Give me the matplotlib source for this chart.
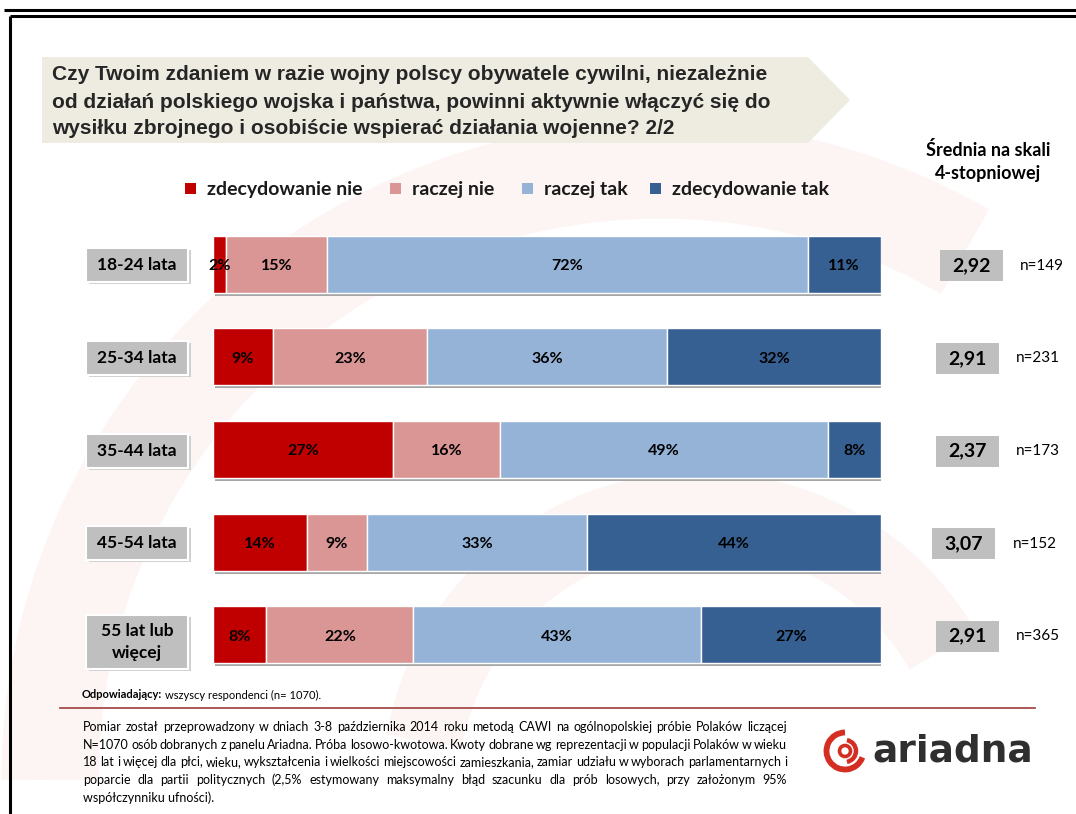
import matplotlib
matplotlib.use("Agg")
import matplotlib.pyplot as plt
from matplotlib.patches import Polygon, Rectangle, Arc, Circle
import numpy as np

W, H = 1076, 814

# survey results (percent of answers in each age group)
groups = ["18-24 lata", "25-34 lata", "35-44 lata", "45-54 lata", "55 lat lub\nwięcej"]
answers = ["zdecydowanie nie", "raczej nie", "raczej tak", "zdecydowanie tak"]
zdec_nie = [2, 9, 27, 14, 8]
raczej_nie = [15, 23, 16, 9, 22]
raczej_tak = [72, 36, 49, 33, 43]
zdec_tak = [11, 32, 8, 44, 27]
means = ["2,92", "2,91", "2,37", "3,07", "2,91"]
counts = [149, 231, 173, 152, 365]

colors = ["#C00000", "#D99694", "#95B3D7", "#376092"]

title_lines = [
    "Czy Twoim zdaniem w razie wojny polscy obywatele cywilni, niezależnie",
    "od działań polskiego wojska i państwa, powinni aktywnie włączyć się do",
    "wysiłku zbrojnego i osobiście wspierać działania wojenne? 2/2",
]
note_lines = [
    "Pomiar został przeprowadzony w dniach 3-8 października 2014 roku metodą CAWI na ogólnopolskiej próbie Polaków liczącej",
    "N=1070 osób dobranych z panelu Ariadna. Próba losowo-kwotowa. Kwoty dobrane wg reprezentacji w populacji Polaków w wieku",
    "18 lat i więcej dla płci, wieku, wykształcenia i wielkości miejscowości zamieszkania, zamiar udziału w wyborach parlamentarnych i",
    "poparcie dla partii politycznych (2,5% estymowany maksymalny błąd szacunku dla prób losowych, przy założonym 95%",
    "współczynniku ufności).",
]

BODY = ["Lato", "DejaVu Sans"]
TITLE = ["Liberation Sans", "DejaVu Sans"]

fig = plt.figure(figsize=(W / 100, H / 100), dpi=100)
fig.patch.set_facecolor("white")

# page layer in pixel coordinates
bg = fig.add_axes([0, 0, 1, 1])
bg.set_xlim(0, W)
bg.set_ylim(H, 0)
bg.axis("off")

# faint watermark swirl
wm = "#FDF5F4"
bg.add_patch(Arc((660, 780), 1220, 1220, theta1=180, theta2=300, color=wm, lw=70, zorder=0))
bg.add_patch(Arc((660, 780), 1220, 1220, theta1=330, theta2=360, color=wm, lw=70, zorder=0))
bg.add_patch(Arc((700, 790), 560, 560, theta1=190, theta2=330, color=wm, lw=55, zorder=0))

# frame
bg.plot([4, W], [10, 10], color="black", lw=2.2, solid_capstyle="butt", zorder=1)
bg.plot([10, W], [16, 16], color="black", lw=2.2, solid_capstyle="butt", zorder=1)
bg.plot([10, 10], [16, H], color="black", lw=2.2, solid_capstyle="butt", zorder=1)

# title banner
bg.add_patch(Polygon([(42, 57), (808, 57), (850, 100), (808, 143), (42, 143)],
                     closed=True, facecolor="#EEECE1", edgecolor="none", zorder=2))
for i, line in enumerate(title_lines):
    bg.text(52, 75 + 27 * i, line, fontsize=15, fontweight="bold", family=TITLE,
            color="#262626", va="center", ha="left", zorder=3)

# legend
leg_x = [185, 390, 522, 650]
for x, lab, c in zip(leg_x, answers, colors):
    bg.add_patch(Rectangle((x, 183), 11, 11, facecolor=c, edgecolor="none", zorder=3))
    bg.text(x + 22, 189, lab, fontsize=14, fontweight="bold", family=BODY,
            color="#1A1A1A", va="center", ha="left", zorder=3)

# header of the right column
bg.text(988, 150, "Średnia na skali", fontsize=13, fontweight="bold", family=BODY,
        color="black", ha="center", va="center")
bg.text(988, 173, "4-stopniowej", fontsize=13, fontweight="bold", family=BODY,
        color="black", ha="center", va="center")

# stacked bars
top_px, bot_px = 218, 681
ax = fig.add_axes([213 / W, (H - bot_px) / H, 668 / W, (bot_px - top_px) / H])
ax.set_xlim(0, 100)
ax.set_ylim(len(groups) - 0.5, -0.5)
ax.axis("off")
ax.patch.set_alpha(0)

row_px = (bot_px - top_px) / len(groups)
bar_h = 57 / row_px
y = np.arange(len(groups))
series = [zdec_nie, raczej_nie, raczej_tak, zdec_tak]
totals = np.sum(series, axis=0)

ax.barh(y + 3 / row_px, totals, left=0.25, height=bar_h, color="#A6A6A6", zorder=1)
left = np.zeros(len(groups))
for vals, c in zip(series, colors):
    vals = np.array(vals, dtype=float)
    ax.barh(y, vals, left=left, height=bar_h, color=c, edgecolor="white",
            linewidth=1.0, zorder=2)
    for yi, (l, v) in enumerate(zip(left, vals)):
        ax.text(l + v / 2, yi + 0.02, f"{v:.0f}%", fontsize=11.5, fontweight="bold",
                family=BODY, color="black", ha="center", va="center", zorder=3)
    left += vals

# group label boxes and mean boxes
centers = [top_px + row_px * (i + 0.5) for i in range(len(groups))]
mean_box_x = [940, 936, 936, 932, 936]
n_x = [1020, 1016, 1016, 1013, 1016]
for i, (g, m, n) in enumerate(zip(groups, means, counts)):
    cy = centers[i]
    two = "\n" in g
    bh = 54 if two else 34
    cy_box = cy + (7 if two else 1)
    bg.add_patch(Rectangle((89, cy_box - bh / 2 + 2), 102, bh, facecolor="#D0D0D0",
                           edgecolor="none", zorder=3))
    bg.add_patch(Rectangle((86, cy_box - bh / 2), 102, bh, facecolor="#BFBFBF",
                           edgecolor="white", lw=1.5, zorder=4))
    bg.text(137, cy_box, g, fontsize=12.5, fontweight="bold", family=BODY, color="black",
            ha="center", va="center", linespacing=1.45, zorder=5)

    bx = mean_box_x[i]
    bg.add_patch(Rectangle((bx, cy - 14), 63, 31, facecolor="#BFBFBF",
                           edgecolor="none", zorder=3))
    bg.text(bx + 31.5, cy + 1.5, m, fontsize=14, fontweight="bold", family=BODY,
            color="black", ha="center", va="center", zorder=4)
    bg.text(n_x[i], cy + 1.5, f"n={n}", fontsize=11, family=BODY, color="black",
            ha="left", va="center", zorder=4)

# respondents line and separator
t1 = bg.text(82, 695, "Odpowiadający:", fontsize=8, fontweight="bold", family=BODY,
             color="black", ha="left", va="center")
fig.canvas.draw()
renderer = fig.canvas.get_renderer()
bb = t1.get_window_extent(renderer)
bg.text(82 + bb.width + 3, 695, "wszyscy respondenci (n= 1070).", fontsize=8,
        family=BODY, color="black", ha="left", va="center")
bg.plot([60, 1035], [708, 708], color="#A54B4B", lw=1.3)

# justified methodology note
x0, x1 = 83, 787
note_fs = 9
for i, line in enumerate(note_lines):
    yy = 727 + 17.6 * i
    if i == len(note_lines) - 1:
        bg.text(x0, yy, line, fontsize=note_fs, family=BODY, color="black",
                ha="left", va="center")
        continue
    words = line.split(" ")
    widths = []
    for w in words:
        t = bg.text(0, 0, w, fontsize=note_fs, family=BODY)
        widths.append(t.get_window_extent(renderer).width)
        t.remove()
    gap = max((x1 - x0 - sum(widths)) / (len(words) - 1), 2.0)
    x = x0
    for w, wd in zip(words, widths):
        bg.text(x, yy, w, fontsize=note_fs, family=BODY, color="black",
                ha="left", va="center")
        x += wd + gap

# company logo
red = "#D42E23"
bg.add_patch(Arc((845, 751), 37, 37, theta1=20, theta2=270, color=red, lw=4.2))
bg.add_patch(Arc((845, 751), 22, 22, theta1=280, theta2=80, color=red, lw=3.2))
bg.add_patch(Circle((845, 751), 5.5, facecolor="none", edgecolor=red, lw=2.6))
bg.text(872, 752, "ariadna", fontsize=27, fontweight="bold", family=["DejaVu Sans"],
        color="#2F2F2F", ha="left", va="center")

fig.savefig("out.png", dpi=100)
